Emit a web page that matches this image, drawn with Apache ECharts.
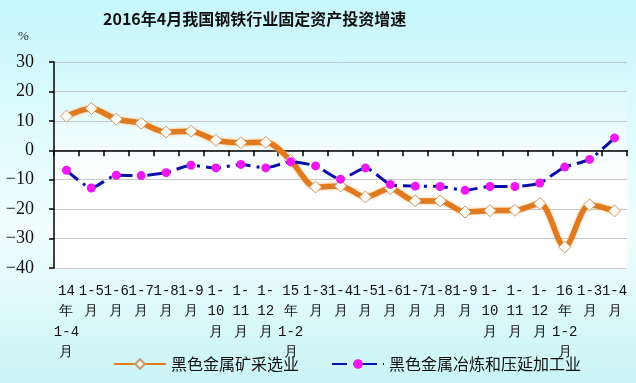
<!DOCTYPE html>
<html><head><meta charset="utf-8">
<script src="https://cdn.jsdelivr.net/npm/echarts@6/dist/echarts.min.js"></script>
<style>html,body{margin:0;padding:0;}#c{width:636px;height:383px;}</style>
</head><body><div id="c"></div>
<script>
const titleText = '2016年4月我国钢铁行业固定资产投资增速';
const categories = ['14\n年\n1-4\n月','1-5\n月','1-6\n月','1-7\n月','1-8\n月','1-9\n月','1-\n10\n月','1-\n11\n月','1-\n12\n月','15\n年\n1-2\n月','1-3\n月','1-4\n月','1-5\n月','1-6\n月','1-7\n月','1-8\n月','1-9\n月','1-\n10\n月','1-\n11\n月','1-\n12\n月','16\n年\n1-2\n月','1-3\n月','1-4\n月'];
const seriesNames = ['黑色金属矿采选业', '黑色金属冶炼和压延加工业'];
const mining = [11.6, 14.2, 10.6, 9.2, 6.2, 6.5, 3.4, 2.6, 2.7, -3.5, -12.5, -12.1, -15.9, -13.0, -17.2, -17.2, -21.0, -20.5, -20.4, -18.1, -32.9, -18.5, -20.6];
const smelting = [-6.8, -12.8, -8.5, -8.6, -7.6, -5.1, -6.0, -4.8, -6.0, -3.9, -5.3, -9.8, -6.0, -11.6, -12.2, -12.3, -13.6, -12.3, -12.3, -11.1, -5.7, -3.1, 4.2];
const yMin = -40, yMax = 30, yStep = 10;
const unitLabel = '%';

const chart = echarts.init(document.getElementById('c'));
chart.setOption({
  backgroundColor: new echarts.graphic.LinearGradient(0, 0, 0, 1, [
    {offset: 0, color: '#C6F7FC'},
    {offset: 0.6, color: '#F2FEFF'},
    {offset: 1, color: '#C9F4F6'}
  ]),
  title: {
    text: titleText, left: 98, top: 6,
    textStyle: {fontFamily: 'Noto Sans CJK SC', fontSize: 16, fontWeight: 'bold', color: '#111'}
  },
  graphic: [{
    type: 'text', left: 18, top: 30,
    style: {text: unitLabel, font: '13px "Liberation Serif"', fill: '#222'}
  }],
  legend: {
    left: 108, top: 351, itemWidth: 52, itemHeight: 12, itemGap: 32,
    textStyle: {fontFamily: 'Noto Sans CJK SC', fontSize: 16, color: '#111'},
    data: seriesNames
  },
  grid: {
    left: 54, right: 9, top: 62, bottom: 115, show: true, borderWidth: 0,
    outerBoundsMode: 'none', containLabel: false,
    backgroundColor: new echarts.graphic.LinearGradient(0, 0, 0, 1, [
      {offset: 0, color: '#CFF8FC'},
      {offset: 0.55, color: '#FFFFFF'},
      {offset: 1, color: '#FFFFFF'}
    ])
  },
  xAxis: [{
    type: 'category', data: categories, boundaryGap: true,
    axisLine: {onZero: true, lineStyle: {color: '#000', width: 1.5}},
    axisTick: {show: true, length: 6, lineStyle: {color: '#000', width: 1.5}},
    axisLabel: {show: false}, splitLine: {show: false}
  }, {
    type: 'category', data: categories, boundaryGap: true, position: 'bottom',
    axisLine: {show: false, onZero: false}, axisTick: {show: false},
    axisLabel: {interval: 0, margin: 13, fontFamily: 'Liberation Mono', fontSize: 14, lineHeight: 20.5, color: '#111'}
  }],
  yAxis: {
    type: 'value', min: yMin, max: yMax, interval: yStep,
    axisLine: {show: true, lineStyle: {color: '#000', width: 1.5}},
    axisTick: {show: true, length: 5, lineStyle: {color: '#000', width: 1.5}},
    axisLabel: {margin: 20, fontFamily: 'Liberation Serif', fontSize: 18, color: '#111',
      formatter: v => String(v).replace('-', '\u2212')},
    splitLine: {lineStyle: {color: '#C4C8CC', width: 1}}
  },
  series: [{
    name: seriesNames[0], type: 'line', data: mining, smooth: 0.3,
    symbol: 'diamond', symbolSize: 12,
    lineStyle: {color: '#E07A1E', width: 5.5, shadowColor: 'rgba(245,180,110,0.9)', shadowBlur: 3},
    itemStyle: {color: '#FFFDF5', borderColor: '#C89A68', borderWidth: 1},
    emphasis: {disabled: true}, z: 2
  }, {
    name: seriesNames[1], type: 'line', data: smelting, smooth: 0.2,
    symbol: 'circle', symbolSize: 9,
    lineStyle: {color: '#0A0FA8', width: 3, type: [15, 6, 3, 6]},
    itemStyle: {color: '#F018F0', borderWidth: 0},
    emphasis: {disabled: true}, z: 3
  }],
  animation: false
});
</script></body></html>
